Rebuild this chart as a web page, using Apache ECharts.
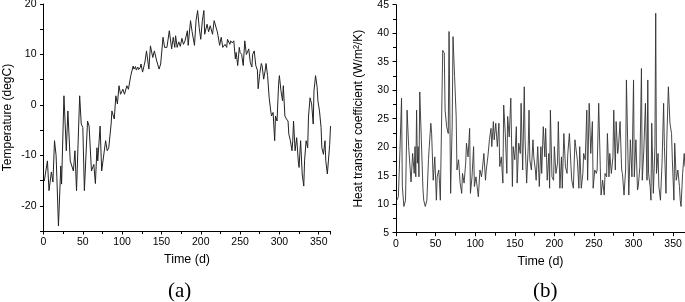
<!DOCTYPE html>
<html>
<head>
<meta charset="utf-8">
<script src="https://cdn.jsdelivr.net/npm/echarts@6/dist/echarts.min.js"></script>
<style>
  html, body { margin: 0; padding: 0; background: #fff; }
  #main { width: 685px; height: 302px; }
</style>
</head>
<body>
<div id="main"></div>
<script>
// (a) 日平均气温
const tempDays = [1, 5, 7, 10, 12, 14, 16, 17, 19, 22, 23, 26, 29, 31, 34, 36, 38, 40, 42, 46, 48, 50, 52, 56, 58, 61, 63, 64, 66, 68, 69, 72, 74, 76, 79, 81, 83, 86, 87, 90, 92, 94, 96, 98, 101, 103, 106, 108, 111, 114, 115, 117, 118, 120, 121, 123, 124, 126, 129, 131, 134, 136, 139, 141, 144, 147, 149, 152, 154, 157, 160, 163, 165, 167, 168, 170, 172, 174, 176, 178, 180,
  183, 184, 187, 189, 192, 194, 196, 198, 200, 202, 204, 205, 208, 210, 212, 215, 217, 219, 221, 222, 224, 226, 228, 229, 231, 233, 234, 237, 238, 240, 242, 244, 245, 247, 249, 250, 252, 254, 256, 258, 260, 261, 263, 265, 266, 268, 270, 272, 273, 275, 277, 278, 280, 282, 283, 285, 287, 289, 290, 292, 294, 295, 297, 299, 300, 302, 304, 305, 307, 309, 311, 312, 314, 316, 317, 318, 320, 322, 324, 325, 327, 329, 331, 332, 334, 336, 337, 339, 341, 343, 344, 346, 348, 349, 351, 353, 354, 356, 358, 359, 361, 363, 364, 365]
const tempVals = [-15.1, -11.1, -17, -13.3, -15.3, -7.1, -10, -14.4, -24, -12.1, -15.7, 1.8, -9.1, -1.2, -11.1, -11.4, -13.1, -9.1, -17, 1.8, -3.8, -4.5, -17, -3.2, -4.2, -13.1, -13.4, -11.8, -15.6, -8.5, -11.1, -4.2, -13.1, -12.8, -7.1, -9.1, -8.5, -3.8, -1.2, -2.8, 1.8, 0.2, 3.8, 2.1, 3.1, 2.1, 3.8, 3.1, 5.8, 7.7, 7.1, 7.6, 6.9, 7.5, 7.0, 7.4, 8.1, 6.5, 8.5, 10.7, 7.1, 11.7, 9.4, 10.7, 8.7, 7.1, 8.1, 13.4, 11.4, 11.4, 14.7, 11.1, 13.4, 11.4, 13.7, 11.4, 12.5, 11.6, 13.2, 12.0, 12.7,
  14.7, 11.8, 16.7, 14.5, 11.8, 16.7, 18.7, 15.3, 13.0, 16.7, 18.7, 14, 16, 14.5, 15.7, 14, 16.7, 16.4, 14.5, 13.7, 11.8, 13.4, 11.4, 11.1, 12, 11.4, 13, 12, 12.7, 12.3, 12.7, 9.1, 10.4, 7.8, 11.4, 10.4, 10, 7.8, 12.7, 10, 10.7, 11.1, 8.4, 7.5, 10, 10.7, 7.8, 6.9, 3.2, 6.2, 8.2, 7.8, 5.1, 6.9, 8.2, 5.8, 1.4, -1.2, -2.2, -1.5, -7.1, -2.2, -3.2, 4.1, 5.8, 2.8, 0.8, 3.8, -2.2, -2.8, -3.2, -5.8, -7.1, -9.1, -7.1, -3.2, -9.1, -6.5, -11.1, -12.4, -7.1, -13.7, -16.1, -11.1, -7.1, -8.5, -2.4, 1.4, 0.2, -3.8, 2.8, 5.8, 3.5, 0.8, -1.2, -4.5, -8.5, -9.8, -7.1, -11.1, -13.7, -13.7, -7.8, -4.2]

// (b) 换热系数
const hDays = [1, 3, 5, 7, 8, 10, 12, 14, 16, 17, 19, 21, 23, 24, 25, 26, 27, 28, 29, 30, 32, 34, 35, 37, 39, 41, 42, 44, 45, 47, 49, 51, 52, 54, 55, 56, 59, 61, 62, 64, 66, 67, 69, 71, 72, 74, 76, 77, 79, 81, 83, 84, 86, 88, 89, 91, 93, 94, 96, 98, 99, 101, 103, 104, 106, 108, 109, 111, 113, 114, 116, 118, 120, 121, 123, 124, 126, 128, 130, 131, 133, 135, 136, 138, 140, 141, 143, 145, 147, 148, 150, 152, 153, 155, 157, 158, 160, 162, 163, 165, 167, 168, 169, 171, 173, 174, 176, 177, 179, 181,
  183, 184, 186, 188, 189, 191, 193, 194, 195, 197, 199, 200, 202, 204, 205, 207, 209, 210, 212, 214, 216, 217, 219, 221, 222, 224, 226, 227, 229, 231, 232, 234, 236, 237, 239, 241, 242, 244, 246, 248, 249, 251, 253, 254, 256, 258, 259, 261, 263, 264, 266, 267, 269, 270, 272, 274, 275, 277, 278, 280, 281, 283, 285, 286, 288, 290, 291, 293, 294, 296, 298, 300, 301, 303, 305, 306, 308, 310, 311, 313, 315, 317, 318, 319, 321, 322, 323, 325, 327, 328, 329, 331, 332, 334, 336, 338, 339, 341, 342, 344, 346, 348, 349, 351, 352, 354, 356, 358, 359, 360, 362, 364, 365]
const hVals = [10.7, 11.3, 19.5, 28.6, 13.1, 9.6, 10.7, 26.5, 20.1, 20.1, 13.9, 18.9, 15.4, 20.1, 14.8, 26.5, 17.2, 20.1, 14.8, 29.7, 21.3, 12.8, 10.7, 9.6, 10.7, 17.8, 20.1, 24.2, 22.4, 14.2, 18.3, 10.7, 14.8, 16, 13.7, 10.7, 37, 36.5, 26.5, 23.6, 22.4, 40.3, 11.9, 24.2, 39.4, 32.4, 25.4, 16, 17.8, 13.7, 11.9, 15.4, 13.7, 17.2, 20.7, 18.3, 23.3, 11.9, 14.8, 20.1, 13.1, 14.8, 14.8, 11.3, 16, 14.8, 16, 18.9, 14.2, 16, 18.3, 21.3, 23.3, 20.1, 24.5, 21.3, 24.2, 20.1, 24.2, 16.6, 18.3, 13.7, 27.4, 22.4, 15.4, 25.4, 21.8, 28.6, 13.1, 20.1, 17.8, 23.6, 13.7, 20.7, 18.9, 27.7, 16, 30.6, 21.3, 13.7, 20.1, 26.5, 17.8, 16, 21.3, 18.3, 16, 14.2, 20.1, 13.1,
  20.1, 15.4, 23.6, 18.3, 23.3, 14.2, 18.9, 12.8, 26.5, 14.8, 14.2, 20.1, 15.4, 17.2, 24.5, 12.8, 18.3, 12.8, 22.4, 16.6, 15.4, 18.9, 22.4, 16.6, 14.2, 12.8, 21.3, 20.1, 17.8, 12.8, 20.1, 12.8, 15.4, 18.9, 17.8, 26.5, 14.2, 27.7, 18.9, 24.5, 12.8, 16, 15.4, 16, 27.7, 16.6, 11.6, 14.2, 11.6, 15.4, 14.8, 22.4, 14.8, 18.9, 15.4, 18.3, 26.5, 16, 24.5, 18.9, 20.1, 24.5, 16, 15.4, 11.6, 16, 31.8, 18.3, 11.6, 21.3, 14.8, 31.8, 14.8, 21.3, 12.5, 13.1, 16.6, 33.8, 14.2, 19.5, 27.7, 14.2, 31.8, 15.4, 13.1, 10.7, 24.2, 11.9, 20.1, 43.5, 15.4, 18.9, 13.1, 10.7, 17.2, 27.7, 20.1, 11.9, 21.3, 30.6, 24.2, 22.4, 17.8, 10.7, 20.7, 14.2, 16, 13.1, 10.7, 9.6, 15.4, 18.9, 16.6]

const chart = echarts.init(document.getElementById('main'))
const font = 'Liberation Sans, Arial, sans-serif'

// 两个图共用的坐标轴样式
const axisBase = {
  axisLine: { show: true, onZero: false, lineStyle: { color: '#000', width: 1 } },
  axisTick: { show: true, length: 3.5, lineStyle: { color: '#000', width: 1 } },
  splitLine: { show: false },
  nameLocation: 'middle',
  nameTextStyle: { color: '#000', fontSize: 12, fontFamily: font }
}
const labelBase = { color: '#000', fontSize: 10.5, fontFamily: font }

const xAxisOf = (gridIndex) => ({
  ...axisBase,
  type: 'value',
  gridIndex: gridIndex,
  min: 0,
  max: 365,
  interval: 50,
  name: 'Time (d)',
  nameGap: 22,
  nameTextStyle: { color: '#000', fontSize: 12.5, fontFamily: font },
  minorTick: { show: true, splitNumber: 2, length: 3, lineStyle: { color: '#000', width: 1 } },
  axisLabel: { ...labelBase, margin: 6, formatter: (v) => (v % 50 === 0 ? v : '') }
})

const option = {
  animation: false,
  backgroundColor: '#fff',
  grid: [
    { left: 43.5, top: 4, width: 287, height: 227, containLabel: false, outerBoundsMode: 'none' },
    { left: 396, top: 4.7, width: 289, height: 228, containLabel: false, outerBoundsMode: 'none' }
  ],
  xAxis: [xAxisOf(0), xAxisOf(1)],
  yAxis: [
    {
      ...axisBase,
      type: 'value',
      gridIndex: 0,
      min: -25,
      max: 20,
      interval: 5,
      name: 'Temperature (degC)',
      nameGap: 30,
      axisLabel: { ...labelBase, margin: 7, formatter: (v) => (v % 10 === 0 ? v : '') }
    },
    {
      ...axisBase,
      type: 'value',
      gridIndex: 1,
      min: 5,
      max: 45,
      interval: 5,
      name: 'Heat transfer coefficient (W/m²/K)',
      nameGap: 31,
      minorTick: { show: true, splitNumber: 2, length: 3, lineStyle: { color: '#000', width: 1 } },
      axisLabel: { ...labelBase, margin: 7 }
    }
  ],
  series: [
    {
      type: 'line',
      xAxisIndex: 0,
      yAxisIndex: 0,
      showSymbol: false,
      lineStyle: { color: '#222', width: 1 },
      data: tempDays.map((d, i) => [d, tempVals[i]])
    },
    {
      type: 'line',
      xAxisIndex: 1,
      yAxisIndex: 1,
      showSymbol: false,
      lineStyle: { color: '#333', width: 0.9 },
      data: hDays.map((d, i) => [d, hVals[i]])
    }
  ],
  graphic: [
    {
      type: 'text',
      left: 168,
      top: 281,
      style: { text: '(a)', fill: '#000', font: '21px "Liberation Serif", "Times New Roman", serif' }
    },
    {
      type: 'text',
      left: 533,
      top: 281,
      style: { text: '(b)', fill: '#000', font: '21px "Liberation Serif", "Times New Roman", serif' }
    }
  ]
}
chart.setOption(option)
</script>
</body>
</html>
